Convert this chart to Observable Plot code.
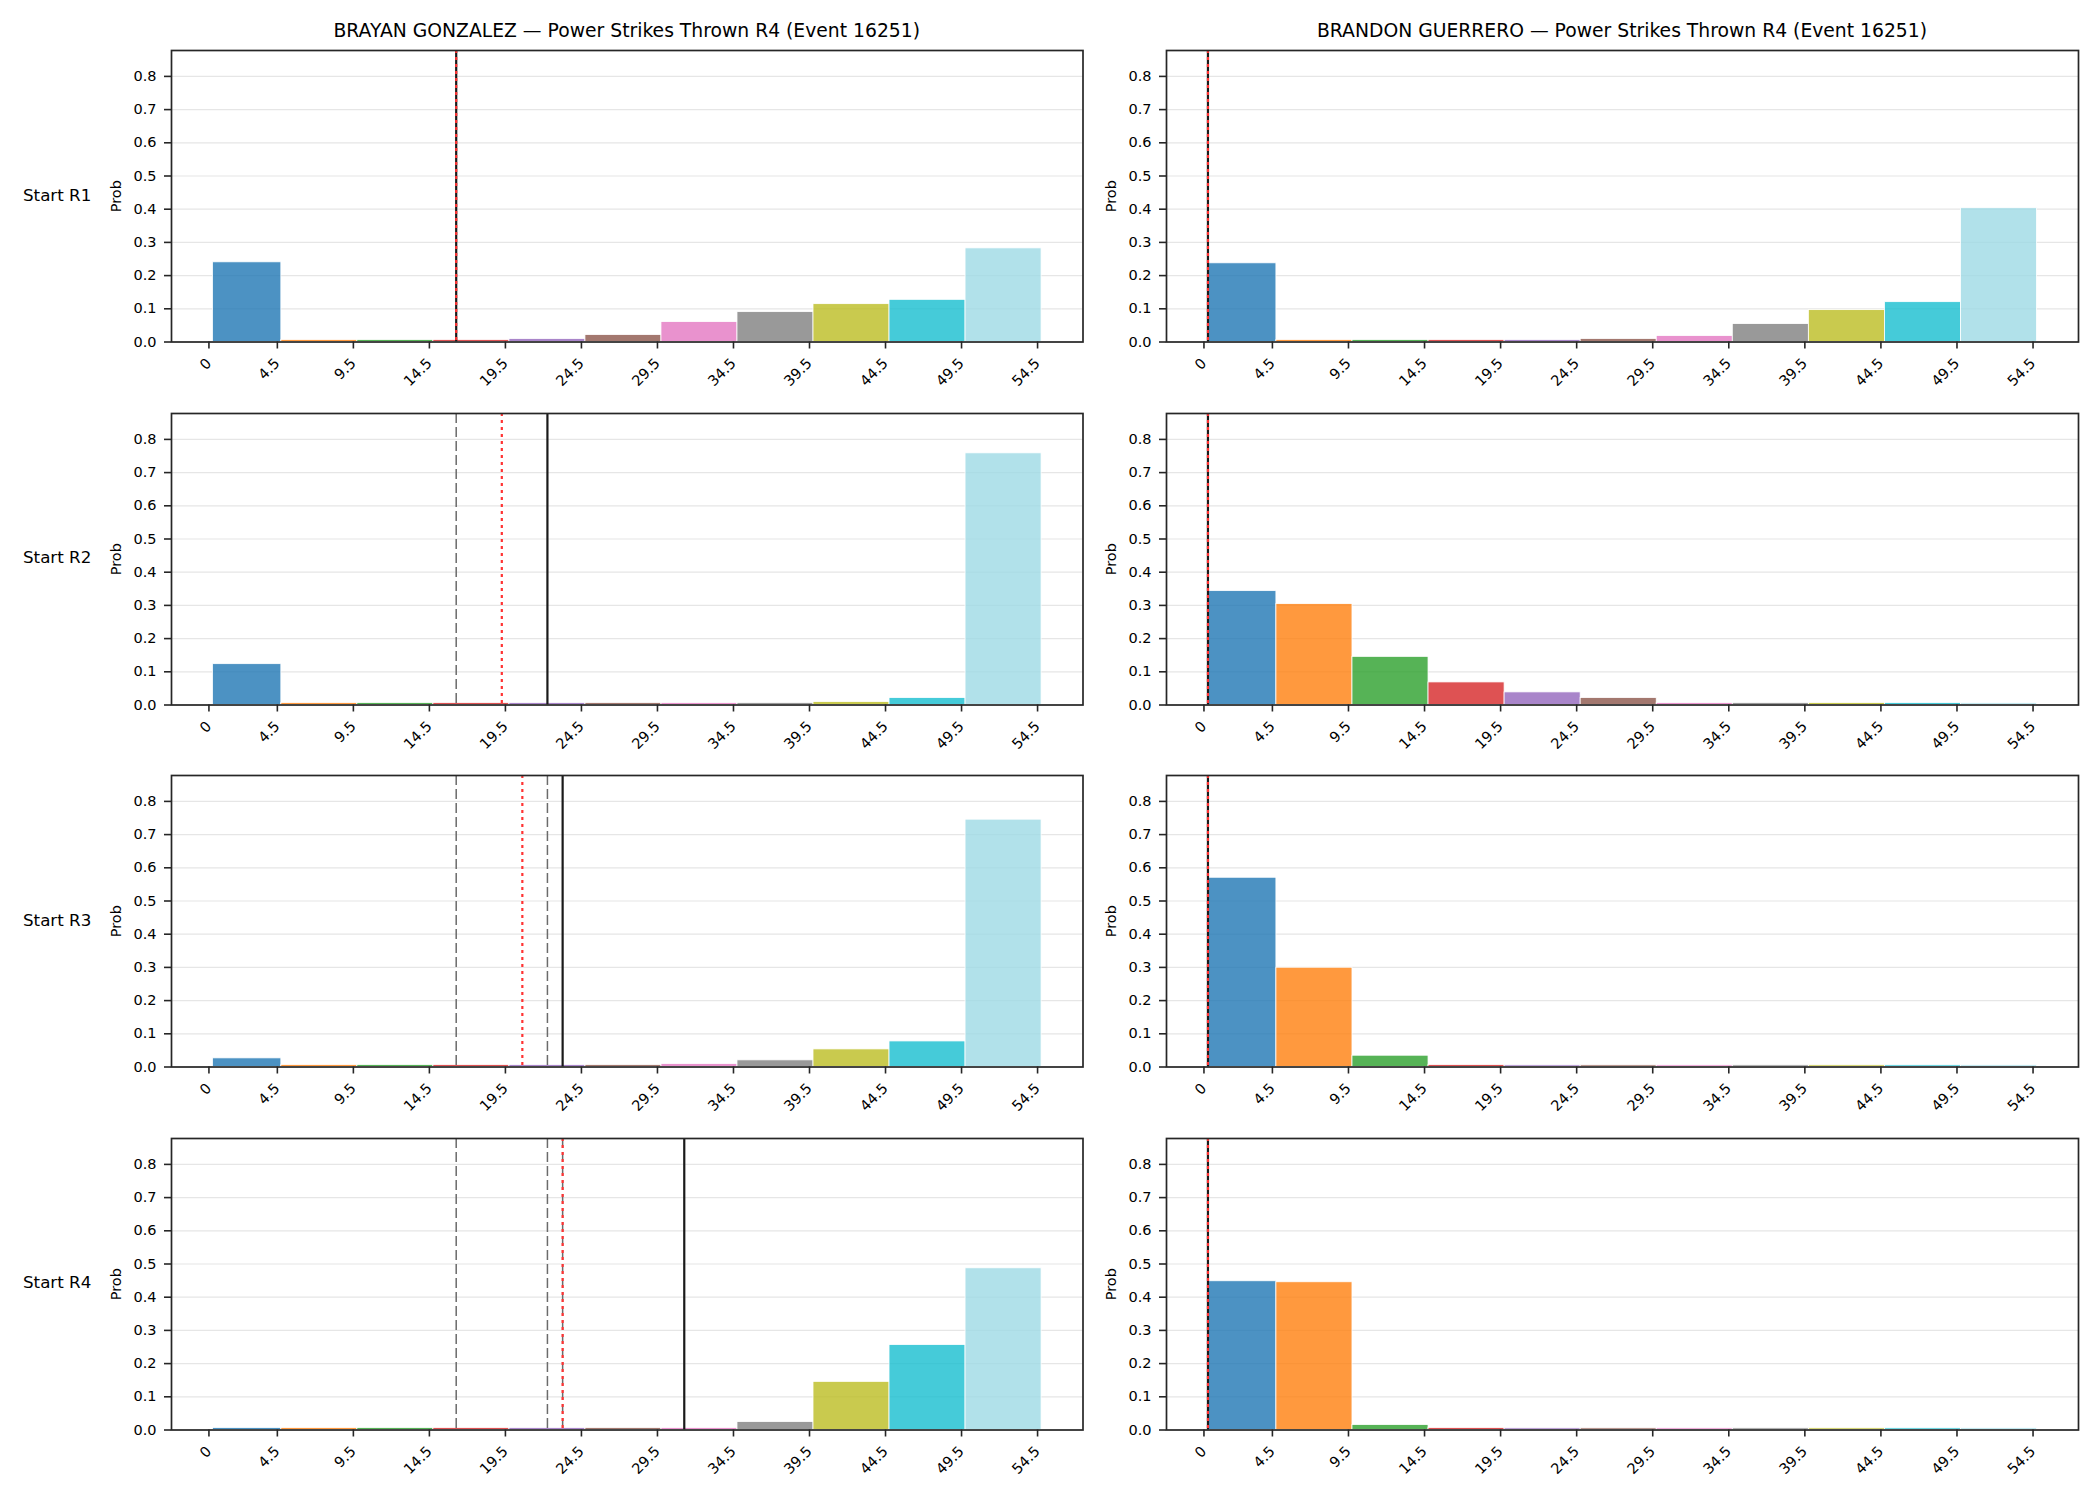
<!DOCTYPE html>
<html>
<head>
<meta charset="utf-8">
<script src="https://cdn.jsdelivr.net/npm/d3@7"></script>
<script src="https://cdn.jsdelivr.net/npm/@observablehq/plot@0.6"></script>
<style>
  html, body { margin: 0; padding: 0; background: #fff; }
  #chart { position: relative; width: 2100px; height: 1500px; background: #fff;
           font-family: "DejaVu Sans", sans-serif; color: #000; overflow: hidden; }
  .cell { position: absolute; }
  .title { position: absolute; font-size: 18.75px; white-space: nowrap; transform: translateX(-50%); line-height: 1; }
  .rowlab { position: absolute; font-size: 16.7px; white-space: nowrap; transform: translateY(-50%); line-height: 1; }
</style>
</head>
<body>
<div id="chart"></div>
<script>
// ---------------- data ----------------
const binEdges = [0, 4.5, 9.5, 14.5, 19.5, 24.5, 29.5, 34.5, 39.5, 44.5, 49.5, 54.5];
const xTickLabels = ["0", "4.5", "9.5", "14.5", "19.5", "24.5", "29.5", "34.5", "39.5", "44.5", "49.5", "54.5"];
const yTicks = [0, 0.1, 0.2, 0.3, 0.4, 0.5, 0.6, 0.7, 0.8];
const binColors = ["#1f77b4", "#ff7f0e", "#2ca02c", "#d62728", "#9467bd", "#8c564b",
                   "#e377c2", "#7f7f7f", "#bcbd22", "#17becf", "#9edae5"];

const fighters = ["BRAYAN GONZALEZ", "BRANDON GUERRERO"];
const rowLabels = ["Start R1", "Start R2", "Start R3", "Start R4"];
const titleSuffix = " \u2014 Power Strikes Thrown R4 (Event 16251)";

// probabilities per bin
const gonzalezR1 = [0.240, 0.006, 0.006, 0.006, 0.009, 0.021, 0.060, 0.090, 0.114, 0.127, 0.282];
const gonzalezR2 = [0.123, 0.006, 0.006, 0.006, 0.006, 0.006, 0.006, 0.006, 0.009, 0.021, 0.758];
const gonzalezR3 = [0.026, 0.006, 0.006, 0.006, 0.006, 0.006, 0.009, 0.020, 0.053, 0.077, 0.745];
const gonzalezR4 = [0.006, 0.006, 0.006, 0.006, 0.006, 0.006, 0.006, 0.024, 0.145, 0.256, 0.487];

const guerreroR1 = [0.237, 0.006, 0.006, 0.006, 0.006, 0.009, 0.018, 0.054, 0.096, 0.120, 0.403];
const guerreroR2 = [0.343, 0.304, 0.145, 0.068, 0.038, 0.021, 0.006, 0.006, 0.006, 0.006, 0.005];
const guerreroR3 = [0.570, 0.299, 0.034, 0.006, 0.005, 0.005, 0.005, 0.005, 0.005, 0.005, 0.005];
const guerreroR4 = [0.448, 0.445, 0.015, 0.006, 0.005, 0.005, 0.005, 0.005, 0.005, 0.005, 0.005];

// reference lines per panel
const gonzalezSolid  = [[16], [22], [23], [31]];
const gonzalezDashed = [[], [16], [16, 22], [16, 22, 23]];
const gonzalezDotted = [[16], [19], [20.35], [23]];

const guerreroSolid  = [[0], [0], [0], [0]];
const guerreroDashed = [[], [], [], []];
const guerreroDotted = [[0], [0], [0], [0]];

const xDomain = [-2.725, 57.225];
const yDomain = [0, 0.878];

// ---------------- layout ----------------
const chart = document.getElementById("chart");
const colFrames = [[171, 1082.5], [1166, 2078]];
const colSvgLeft = [0, 1088];
const colSvgWidth = [1100, 1012];
const rowFrameTops = [50, 412.5, 775, 1137.5];
const frameH = 291.5;
const mTop = 10, svgH = 362;

const panels = [
  [gonzalezR1, gonzalezR2, gonzalezR3, gonzalezR4],
  [guerreroR1, guerreroR2, guerreroR3, guerreroR4]
];
const solids = [gonzalezSolid, guerreroSolid];
const dasheds = [gonzalezDashed, guerreroDashed];
const dotteds = [gonzalezDotted, guerreroDotted];

const tickLabelOf = new Map(binEdges.map((e, i) => [e, xTickLabels[i]]));

function panel(values, solid, dashed, dotted, c) {
  const bars = values.map((v, i) => ({x1: binEdges[i], x2: binEdges[i + 1], p: v, color: binColors[i]}));
  const [fl, fr] = colFrames[c];
  const left = colSvgLeft[c], width = colSvgWidth[c];
  return Plot.plot({
    width: width,
    height: svgH,
    marginLeft: fl - left,
    marginRight: width - (fr - left),
    marginTop: mTop,
    marginBottom: svgH - mTop - frameH,
    style: {fontFamily: "DejaVu Sans, sans-serif", fontSize: "14.5px", color: "#000", background: "transparent", overflow: "visible"},
    x: {type: "linear", domain: xDomain},
    y: {type: "linear", domain: yDomain},
    marks: [
      Plot.gridY(yTicks, {stroke: "#e6e6e6", strokeOpacity: 1, strokeWidth: 1.2}),
      Plot.rect(bars, {x1: "x1", x2: "x2", y1: 0, y2: "p", fill: "color", fillOpacity: 0.8,
                       stroke: "white", strokeWidth: 0.8}),
      Plot.ruleX(dashed, {stroke: "#6b6b6b", strokeWidth: 1.5, strokeDasharray: "10,4"}),
      Plot.ruleX(solid, {stroke: "#1a1a1a", strokeWidth: 2.2}),
      Plot.ruleX(dotted, {stroke: "#ff3333", strokeWidth: 2.2, strokeDasharray: "3,4"}),
      Plot.frame({stroke: "#262626", strokeWidth: 1.7}),
      Plot.axisY({ticks: yTicks, tickFormat: d => d.toFixed(1), tickSize: 7, tickPadding: 8,
                  stroke: "#262626", strokeWidth: 1.6, fill: "#000",
                  label: "Prob", labelAnchor: "center", labelArrow: "none", labelOffset: 61}),
      Plot.axisX({ticks: binEdges, tickFormat: d => tickLabelOf.get(d), tickSize: 7, tickPadding: 12,
                  tickRotate: -45, dx: -4, stroke: "#262626", strokeWidth: 1.6, fill: "#000", label: null})
    ]
  });
}

for (let c = 0; c < 2; c++) {
  const [fl, fr] = colFrames[c];
  const t = document.createElement("div");
  t.className = "title";
  t.textContent = fighters[c] + titleSuffix;
  t.style.left = ((fl + fr) / 2) + "px";
  t.style.top = "22px";
  chart.appendChild(t);
  for (let r = 0; r < 4; r++) {
    const div = document.createElement("div");
    div.className = "cell";
    div.style.left = colSvgLeft[c] + "px";
    div.style.top = (rowFrameTops[r] - mTop) + "px";
    div.style.width = colSvgWidth[c] + "px";
    div.style.height = svgH + "px";
    div.appendChild(panel(panels[c][r], solids[c][r], dasheds[c][r], dotteds[c][r], c));
    chart.appendChild(div);
  }
}

for (let r = 0; r < 4; r++) {
  const l = document.createElement("div");
  l.className = "rowlab";
  l.textContent = rowLabels[r];
  l.style.left = "23px";
  l.style.top = (rowFrameTops[r] + frameH / 2 - 1) + "px";
  chart.appendChild(l);
}
</script>
</body>
</html>
